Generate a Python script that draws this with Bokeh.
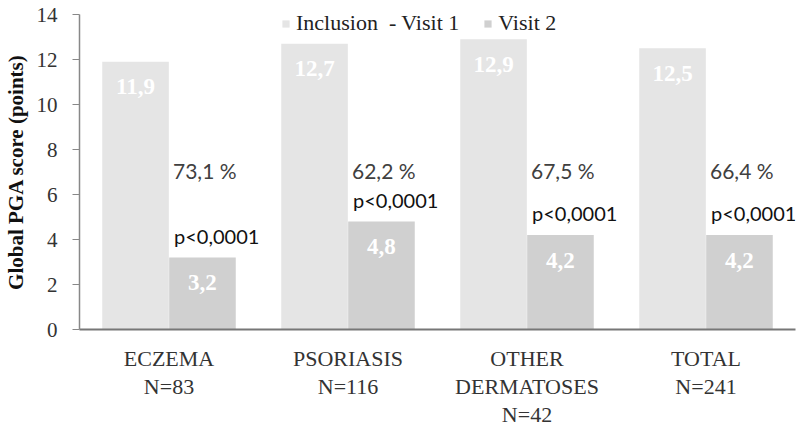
from bokeh.plotting import figure
from bokeh.models import ColumnDataSource, Legend, LegendItem, FactorRange, FixedTicker
from bokeh.transform import dodge
from bokeh.core.properties import value
from bokeh.embed import file_html
from bokeh.resources import INLINE

categories = ["ECZEMA\nN=83", "PSORIASIS\nN=116", "OTHER\nDERMATOSES\nN=42", "TOTAL\nN=241"]
visit1 = [11.9, 12.7, 12.9, 12.5]
visit2 = [3.2, 4.8, 4.2, 4.2]
reduction = ["73,1 %", "62,2 %", "67,5 %", "66,4 %"]
pvalues = ["p<0,0001", "p<0,0001", "p<0,0001", "p<0,0001"]
series_names = ["Inclusion  - Visit 1", "Visit 2"]
y_ticks = [0, 2, 4, 6, 8, 10, 12, 14]

C1 = "#e5e5e5"
C2 = "#d0d0d0"
SERIF = "Liberation Serif"
SANS = "Lato"

src = ColumnDataSource(dict(
    cat=categories,
    v1=visit1,
    v2=visit2,
    v1_lbl=[f"{v:.1f}".replace(".", ",") for v in visit1],
    v2_lbl=[f"{v:.1f}".replace(".", ",") for v in visit2],
    pct=reduction,
    pval=pvalues,
    pct_y=[7.05] * len(categories),
))

p = figure(x_range=FactorRange(*categories), y_range=(0, 14),
           width=800, height=429, output_backend="svg", toolbar_location=None,
           min_border_left=77, min_border_right=5, min_border_top=14, min_border_bottom=97)

w = 0.372
r1 = p.vbar(x=dodge("cat", -0.187, range=p.x_range), top="v1", width=w, source=src,
            fill_color=C1, line_color=None)
r2 = p.vbar(x=dodge("cat", 0.187, range=p.x_range), top="v2", width=w, source=src,
            fill_color=C2, line_color=None)

p.text(x=dodge("cat", -0.187, range=p.x_range), y="v1", text="v1_lbl", source=src,
       text_align="center", text_baseline="middle", y_offset=25,
       text_color="white", text_font=value(SERIF), text_font_style="bold",
       text_font_size="23px")
p.text(x=dodge("cat", 0.187, range=p.x_range), y="v2", text="v2_lbl", source=src,
       text_align="center", text_baseline="middle", y_offset=25,
       text_color="white", text_font=value(SERIF), text_font_style="bold",
       text_font_size="23px")
p.text(x=dodge("cat", 0.0, range=p.x_range), y="pct_y", text="pct", source=src,
       text_align="left", text_baseline="middle", x_offset=4,
       text_color="#404040", text_font=value(SANS), text_font_size="21px")
p.text(x=dodge("cat", 0.0, range=p.x_range), y="v2", text="pval", source=src,
       text_align="left", text_baseline="middle", x_offset=5, y_offset=-22,
       text_color="#111111", text_font=value(SANS), text_font_size="20px")

p.x_range.range_padding = 0
p.x_range.factor_padding = 0
p.grid.visible = False
p.outline_line_color = None

p.yaxis.ticker = FixedTicker(ticks=y_ticks)
p.yaxis.axis_label = "Global PGA score (points)"
p.yaxis.axis_label_text_font = SERIF
p.yaxis.axis_label_text_font_style = "bold"
p.yaxis.axis_label_text_font_size = "21px"
p.yaxis.axis_label_text_color = "#111111"
p.yaxis.axis_label_standoff = 6
p.yaxis.major_label_text_font = SERIF
p.yaxis.major_label_text_font_size = "21px"
p.yaxis.major_label_text_color = "#333333"
p.yaxis.major_label_standoff = 15
p.yaxis.major_tick_out = 7
p.yaxis.major_tick_in = 0
p.yaxis.minor_tick_line_color = None
p.yaxis.major_tick_line_color = "#888888"
p.yaxis.axis_line_color = "#888888"
p.yaxis.axis_line_width = 1.5

p.xaxis.major_label_text_font = SERIF
p.xaxis.major_label_text_font_size = "22px"
p.xaxis.major_label_text_color = "#333333"
p.xaxis.major_label_text_line_height = 1.12
p.xaxis.major_label_standoff = 10
p.xaxis.major_tick_line_color = None
p.xaxis.axis_line_color = "#777777"
p.xaxis.axis_line_width = 2

legend = Legend(items=[LegendItem(label=series_names[0], renderers=[r1]),
                       LegendItem(label=series_names[1], renderers=[r2])],
                orientation="horizontal", location=(202, 293),
                label_text_font=SERIF, label_text_font_size="22px",
                label_text_color="#222222", glyph_width=9, glyph_height=9,
                label_standoff=6, spacing=24, padding=0, margin=0,
                background_fill_alpha=0, border_line_color=None, label_height=22)
p.add_layout(legend, "center")

open("out.html", "w").write(file_html(p, INLINE))
